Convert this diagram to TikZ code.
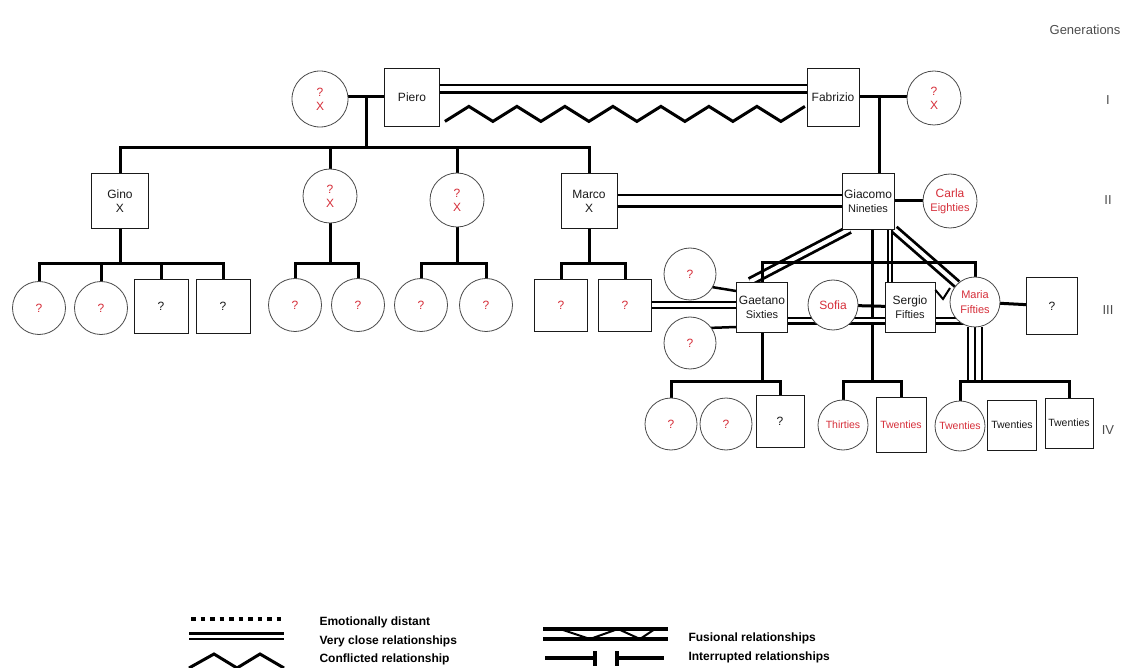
\documentclass[tikz,border=0pt]{standalone}
\usepackage{fontspec}
\setmainfont{Liberation Sans}
\usetikzlibrary{calc}
\definecolor{Ink}{HTML}{1A1A1A}
\definecolor{Rosso}{HTML}{D62F3A}
\definecolor{Rim}{HTML}{4A4A4A}
\pgfdeclarelayer{bg}
\pgfsetlayers{bg,main}
\newcommand{\agefont}{\fontsize{11}{13}\selectfont}

\begin{document}
\begin{tikzpicture}[x=1pt,y=-1pt,
  male/.style={rectangle,draw=Ink,line width=0.8pt,fill=white,inner sep=0pt,align=center,text=Ink,font=\fontsize{12}{14}\selectfont,minimum width=52pt,minimum height=54pt},
  female/.style={circle,draw=Rim,line width=0.8pt,fill=white,inner sep=0pt,align=center,text=Rosso,font=\fontsize{12}{14}\selectfont,minimum size=54pt},
  kid/.style={font=\fontsize{10.5}{12}\selectfont},
  rel/.style={line width=3pt,line cap=rect},
  tight/.style={line width=2.8pt,double=white,double distance=#1},
  tight/.default=5pt,
  conflict/.style={line width=3pt,line join=miter},
  genlabel/.style={font=\fontsize{13}{15}\selectfont,text=black!70},
  legtext/.style={anchor=west,font=\fontsize{12}{14}\selectfont\bfseries}]
\useasboundingbox (0,0) rectangle (1133,668);

% generation labels
\node[genlabel,anchor=east] (gens) at (1124,30) {Generations};
\foreach \y/\s in {100/I,200/II,310/III,430/IV} \node[genlabel] (g\s) at (1108,\y) {\s};

% generation I
\node[female,minimum size=56pt] (nonnaP) at (320,99) {?\\X};
\node[male,minimum width=55pt,minimum height=58pt] (piero) at (412,97) {Piero};
\node[male,minimum height=58pt] (fabrizio) at (833,97) {Fabrizio};
\node[female] (nonnaF) at (934,98) {?\\X};
\coordinate (mPiero) at (366,97);
\coordinate (sibPiero) at (366,148);
\coordinate (mFab) at (879,97);

% generation II
\node[male,minimum width=57pt,minimum height=55pt] (gino) at (120,201) {Gino\\X};
\node[female] (zia1) at (330,196) {?\\X};
\node[female] (zia2) at (457,200) {?\\X};
\node[male,minimum width=56pt,minimum height=55pt] (marco) at (589,201) {Marco\\X};
\node[male,minimum height=56pt] (giacomo) at (868,201) {Giacomo\\{\agefont Nineties}};
\node[female] (carla) at (950,201) {Carla\\{\agefont Eighties}};

% generation III
\foreach \n/\x in {a/39,b/101} \node[female,minimum size=53pt] (gin\n) at (\x,308) {?};
\foreach \n/\x in {c/161,d/223} \node[male,minimum width=54pt,minimum height=54pt] (gin\n) at (\x,306) {?};
\foreach \n/\x in {a/295,b/358} \node[female,minimum size=53pt] (zua\n) at (\x,305) {?};
\foreach \n/\x in {a/421,b/486} \node[female,minimum size=53pt] (zub\n) at (\x,305) {?};
\foreach \n/\x in {a/561,b/625} \node[male,minimum width=53pt,minimum height=52pt,text=Rosso] (mar\n) at (\x,305) {?};
\node[female,minimum size=52pt] (wifeA) at (690,274) {?};
\node[female,minimum size=52pt] (wifeB) at (690,343) {?};
\node[male,minimum width=51pt,minimum height=50pt] (gaetano) at (762,307) {Gaetano\\{\agefont Sixties}};
\node[female,minimum size=50pt] (sofia) at (833,305) {Sofia};
\node[male,minimum width=50pt,minimum height=50pt] (sergio) at (910,307) {Sergio\\{\agefont Fifties}};
\node[female,minimum size=50pt,font=\fontsize{11}{15}\selectfont] (maria) at (975,302) {Maria\\Fifties};
\node[male,minimum width=51pt,minimum height=57pt] (mariaP) at (1052,306) {?};

% generation IV
\node[female,minimum size=52pt] (gaeA) at (671,424) {?};
\node[female,minimum size=52pt] (gaeB) at (726,424) {?};
\node[male,minimum width=48pt,minimum height=52pt] (gaeC) at (780,421) {?};
\node[female,kid,minimum size=50pt] (sofA) at (843,425) {Thirties};
\node[male,kid,minimum width=50pt,minimum height=55pt,text=Rosso] (sofB) at (901,425) {Twenties};
\node[female,kid,minimum size=50pt] (marA) at (960,426) {Twenties};
\node[male,kid,minimum width=49pt,minimum height=50pt] (marB) at (1012,425) {Twenties};
\node[male,kid,minimum width=48pt,minimum height=50pt] (marC) at (1069,423) {Twenties};

\begin{pgfonlayer}{bg}
% couples and siblings
\draw[rel] (nonnaP.east |- piero) -- (piero);
\draw[rel] (mPiero) -- (sibPiero);
\draw[rel] (gino.north |- sibPiero) -- (marco.north |- sibPiero);
\foreach \p in {gino,zia1,zia2,marco} \draw[rel] (\p.north |- sibPiero) -- (\p.north);
\draw[rel] (fabrizio) -- (nonnaF.west |- fabrizio);
\draw[rel] (mFab) -- (mFab |- giacomo.north);
\draw[rel] (giacomo) -- (carla);
\draw[tight=5pt] ([yshift=8pt]piero.east) -- ([yshift=8pt]fabrizio.west);
\draw[tight=9pt] (marco) -- (giacomo);
% children of generation II
\draw[rel] (gino.south) -- (gino.south |- 0,264) -| (gina);
\draw[rel] (gino.south |- 0,264) -| (gind);
\draw[rel] (ginb.north |- 0,264) -- (ginb);
\draw[rel] (ginc.north |- 0,264) -- (ginc);
\draw[rel] (zia1.south) -- (zia1.south |- 0,264);
\draw[rel] (zuaa) |- (zia1.south |- 0,264) -| (zuab);
\draw[rel] (zia2.south) -- (zia2.south |- 0,264);
\draw[rel] (zuba) |- (zia2.south |- 0,264) -| (zubb);
\draw[rel] (marco.south) -- (marco.south |- 0,264);
\draw[rel] (mara) |- (marco.south |- 0,264) -| (marb);
% Giacomo's line
\draw[tight=4pt] ([xshift=8pt]giacomo.south west) -- ([xshift=14pt]gaetano.north west);
\draw[tight=2pt,line width=2.2pt] ([xshift=22pt]giacomo.south) -- ([xshift=22pt]giacomo.south |- sergio.north);
\draw[tight=4pt] (giacomo.south east) -- (maria.135);
\draw[rel] (gaetano) |- (maria.north |- 0,263) -- (maria);
\draw[rel] ([xshift=4pt]giacomo.south) -- ([xshift=4pt]giacomo.south |- 0,382);
\draw[tight=3pt,line width=2.2pt] ([yshift=-14pt]gaetano.east) -- ([yshift=-14pt]gaetano.east -| maria);
\draw[tight=4pt,line width=2.4pt] (marb) -- (marb -| gaetano);
\draw[rel,line width=2.5pt] (wifeA.-30) -- ([yshift=16pt]gaetano.west);
\draw[rel,line width=2.5pt] (wifeB.35) -- ([yshift=-20pt]gaetano.west);
\draw[rel] (sofia) -- (sergio);
\draw[rel] (maria) -- (mariaP);
% generation IV
\draw[rel] (gaetano.south) -- (gaetano.south |- 0,382);
\draw[rel] (gaeA) |- (gaetano.south |- 0,382) -| (gaeC);
\draw[rel] (sofA) |- (sofB.north |- 0,382) -- (sofB);
\foreach \d in {-7,0,7} \draw[line width=2pt] ([xshift=\d pt]maria.south) -- ([xshift=\d pt]maria.south |- 0,382);
\draw[rel] (marA) |- (marC.north |- 0,382) -- (marC);
\end{pgfonlayer}

% conflict
\draw[conflict] ([shift={(5pt,5pt)}]piero.south east) \foreach \k in {1,...,15}{ -- ++(24,{15*(-1)^\k}) };
\draw[line width=2pt] (sergio.east |- 0,290) -- (943,299) -- (950,288);

% legend
\draw[line width=3.5pt,dash pattern=on 4.5pt off 5pt] (191,619) -- (282,619);
\draw[tight=3pt,line width=2.6pt] (189,636) -- (284,636);
\draw[conflict] (189,668) -- (214,654) -- (237,668) -- (260,654) -- (284,668);
\node[legtext] (lDist) at (316,622) {Emotionally distant};
\node[legtext] (lClose) at (316,641) {Very close relationships};
\node[legtext] (lConf) at (316,659) {Conflicted relationship};
\draw[line width=3.5pt] (543,629) -- (668,629);
\draw[line width=3.5pt] (543,639) -- (668,639);
\draw[line width=2pt] (560,629) -- (590,639) -- (618,629) -- (640,639) -- (655,629);
\draw[line width=3.5pt] (545,658) -- (595,658);
\draw[line width=3.5pt] (595,651) -- (595,666);
\draw[line width=3.5pt] (617,651) -- (617,666);
\draw[line width=3.5pt] (617,658) -- (664,658);
\node[legtext] (lFus) at (685,638) {Fusional relationships};
\node[legtext] (lInt) at (685,657) {Interrupted relationships};
\end{tikzpicture}
\end{document}
